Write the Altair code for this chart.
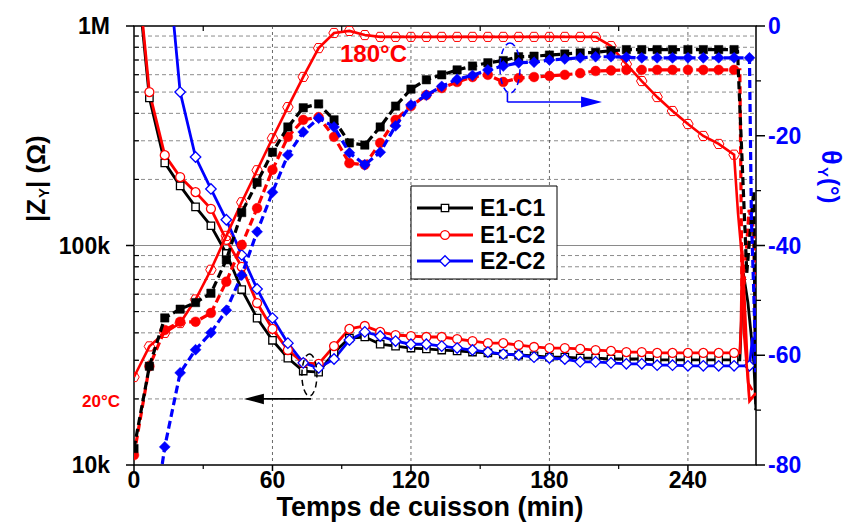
import altair as alt
import pandas as pd

# ---------------- data ----------------
t_grid = [0, 6.67, 13.33, 20, 26.67, 33.33, 40, 46.67, 53.33, 60,
          66.67, 73.33, 80, 86.67, 93.33, 100, 106.67, 113.33, 120, 126.67,
          133.33, 140, 146.67, 153.33, 160, 166.67, 173.33, 180, 186.67, 193.33,
          200, 206.67, 213.33, 220, 226.67, 233.33, 240, 246.67, 253.33, 260]

# |Z_Y| in ohm
z_e1c1 = [2.4e6, 470e3, 238e3, 187e3, 150e3, 123e3, 92e3, 63e3, 46.7e3, 37e3,
          30.7e3, 26.8e3, 26.5e3, 32.5e3, 37.9e3, 38.3e3, 35.5e3, 34.8e3, 34.1e3, 33.8e3,
          33.4e3, 33.1e3, 32.7e3, 32.4e3, 32.0e3, 31.7e3, 31.4e3, 31.0e3, 31.0e3, 30.7e3,
          30.7e3, 30.4e3, 30.4e3, 30.4e3, 30.1e3, 30.1e3, 30.1e3, 30.1e3, 30.1e3, 30.1e3]
z_e1c2 = [2.6e6, 500e3, 258e3, 205e3, 175e3, 147e3, 106e3, 80e3, 54.7e3, 41.7e3,
          33.4e3, 29.2e3, 28.9e3, 34.8e3, 41.7e3, 43.0e3, 40.4e3, 39.1e3, 38.7e3, 38.3e3,
          38.3e3, 37.5e3, 36.7e3, 35.9e3, 35.9e3, 35.2e3, 34.5e3, 34.1e3, 34.1e3, 33.8e3,
          33.4e3, 33.1e3, 32.7e3, 32.7e3, 32.4e3, 32.4e3, 32.4e3, 32.4e3, 32.4e3, 32.4e3]
z_e2c2 = [None, None, 2.8e6, 500e3, 253e3, 181e3, 131e3, 90.6e3, 63.4e3, 46.7e3,
          35.9e3, 29.2e3, 27.7e3, 30.4e3, 37.1e3, 40.4e3, 38.7e3, 36.7e3, 35.5e3, 35.5e3,
          34.8e3, 34.1e3, 33.4e3, 32.7e3, 32.0e3, 31.7e3, 31.0e3, 30.7e3, 30.4e3, 29.5e3,
          29.5e3, 29.2e3, 28.9e3, 28.9e3, 28.5e3, 28.5e3, 28.3e3, 28.3e3, 28.3e3, 28.3e3]
z_e1c1_tail_t = [262.5, 264.0, 266.0, 268.5, 269.5]
z_e1c1_tail = [30.1e3, 75e3, 55e3, 30e3, 17.8e3]
z_e1c2_tail_t = [262.5, 263.0, 263.5, 266.3, 266.7, 269.5]
z_e1c2_tail = [32.4e3, 43e3, 95e3, 22e3, 19.6e3, 21.3e3]
z_e2c2_tail_t = [266.67, 268.0, 269.5]
z_e2c2_tail = [28.3e3, 38e3, 25.5e3]

# phase theta_Y in degrees
p_e1c1 = [-77, -62, -53.2, -51.6, -50.4, -48.7, -42.6, -34, -28.5, -23,
          -18.4, -14.9, -14.2, -17.1, -21.3, -21.7, -18.4, -14.6, -11.5, -9.8,
          -8.9, -8.0, -7.3, -6.7, -6.3, -5.6, -5.5, -5.3, -5.1, -4.9,
          -4.8, -4.5, -4.3, -4.3, -4.3, -4.3, -4.3, -4.3, -4.3, -4.3]
p_e1c2 = [-78.2, -62, -55.4, -53.9, -53.9, -52.3, -46.6, -39.9, -33.2, -26.2,
          -20.2, -17.1, -16.6, -20.2, -25.0, -25.3, -21.3, -17.1, -14.6, -12.6,
          -11.3, -10.2, -9.3, -8.9, -10.2, -9.5, -9.3, -9.1, -8.9, -8.6,
          -8.2, -8.1, -8.0, -8.0, -8.0, -8.0, -8.0, -8.0, -8.0, -8.0]
p_e2c2 = [None, None, -76.7, -63.2, -59.0, -55.9, -51.8, -45.4, -37.5, -30.3,
          -23.5, -19.3, -16.8, -18.4, -23.1, -25.3, -23.0, -18.2, -14.4, -12.6,
          -11.0, -9.7, -9.0, -8.0, -7.3, -6.7, -6.6, -6.2, -6.0, -5.8,
          -5.6, -5.6, -5.7, -5.8, -5.8, -5.8, -5.8, -5.8, -5.8, -5.8]
p_e2c2_head_t = [11.5]
p_e2c2_head = [-82]
p_e1c1_tail_t = [261.5, 265.5, 268.5, 269.5]
p_e1c1_tail = [-4.6, -45, -30, -70]
p_e1c2_tail_t = [262.5, 263.5, 266.5, 268.5, 269.5]
p_e1c2_tail = [-8.0, -52, -33.5, -37, -62]
p_e2c2_tail_t = [266.67, 267.5, 268.5, 269.5]
p_e2c2_tail = [-5.8, -35, -48, -63]

# cure temperature in degC
temp_c = [29.6, 43.0, 48.9, 53.2, 63.5, 76.5, 91.3, 106.0, 120.0, 134.0,
          147.6, 160.8, 173.4, 180.0, 180.9, 179.1, 178.3, 178.3, 178.3, 178.3,
          178.3, 178.3, 178.3, 178.3, 178.3, 178.3, 178.3, 178.3, 178.3, 178.3,
          178.3, 174.3, 166.4, 159.0, 152.0, 145.9, 140.2, 135.0, 131.5, 126.8]
temp_tail_t = [261.7, 263.5, 264.3, 266.1, 267.9]
temp_tail = [101.3, 80.8, 48.9, 27.0, 23.9]

series_names = ["E1-C1", "E1-C2", "E2-C2"]
x_major = [0, 60, 120, 180, 240]
x_labels = ["0", "60", "120", "180", "240"]
x_grid = [60, 120, 180, 240]
x_minor = [30, 90, 150, 210]
z_major = [1e4, 1e5, 1e6]
z_labels = ["10k", "100k", "1M"]
z_minor = [2e4, 3e4, 4e4, 5e4, 6e4, 7e4, 8e4, 9e4, 2e5, 3e5, 4e5, 5e5, 6e5, 7e5, 8e5, 9e5]
p_major = [-80, -60, -40, -20, 0]
p_labels = ["-80", "-60", "-40", "-20", "0"]
p_minor = [-70, -50, -30, -10]

# annotation anchors (data units)
ell_left_t, ell_left_z = [76.0], [25.7e3]
arrow_left_t0, arrow_left_t1, arrow_left_z = [49.4], [76.7], [20e3]
arrow_left_head_t = [52.6]
ell_right_t, ell_right_p = [162.9], [-7.65]
arrow_right_t0, arrow_right_t1, arrow_right_p = [161.8], [197.0], [-13.85]
arrow_right_vert_p0 = [-12.1]
arrow_right_head_t = [197.6]

# ---------------- styling ----------------
FONT = "Liberation Sans"
W, H = 622, 439
BLACK, RED, BLUE = "#000000", "#ff0000", "#0000ff"
COLORS = [BLACK, RED, BLUE]
OPEN_SHAPES = ["square", "circle", "diamond"]
OPEN_SIZES = [55, 80, 110]
FILL_SIZES = [70, 95, 120]

XS = alt.Scale(domain=[0, 269.5], nice=False, zero=False)
ZS = alt.Scale(type="log", domain=[1e4, 1e6], nice=False)
PS = alt.Scale(domain=[-80, 0], nice=False, zero=False)
TS = alt.Scale(domain=[-8.853, 183.06], nice=False, zero=False)


def ellipse_path(a):
    k = 0.5523
    return (f"M0,-1 C{a*k:.3f},-1 {a:.3f},-{k} {a:.3f},0 "
            f"C{a:.3f},{k} {a*k:.3f},1 0,1 "
            f"C-{a*k:.3f},1 -{a:.3f},{k} -{a:.3f},0 "
            f"C-{a:.3f},-{k} -{a*k:.3f},-1 0,-1 Z")


HEX = "M-1,0 L-0.5,-0.87 L0.5,-0.87 L1,0 L0.5,0.87 L-0.5,0.87 Z"
TRI_LEFT = "M-1,0 L1,-0.53 L1,0.53 Z"
TRI_RIGHT = "M1,0 L-1,-0.53 L-1,0.53 Z"
VTICK = "M0,-1 L0,1"
HTICK = "M-1,0 L1,0"


def xq(field="t"):
    return alt.X(f"{field}:Q", scale=XS, axis=None)


def yz(field="v"):
    return alt.Y(f"{field}:Q", scale=ZS, axis=None)


def yp(field="v"):
    return alt.Y(f"{field}:Q", scale=PS, axis=None)


def frame(times, vals):
    df = pd.DataFrame({"t": times, "v": vals})
    return df.dropna()


def tick_pts(df, shape, length, width=1.5):
    return alt.Chart(df).mark_point(shape=shape, size=length * length, filled=False,
                                    stroke=BLACK, strokeWidth=width, opacity=1)


# ---------------- |Z| layer (left log axis) ----------------
zparts = [
    alt.Chart(pd.DataFrame({"v": z_minor})).mark_rule(color="#6e6e6e", strokeWidth=0.8, strokeDash=[4, 3])
    .encode(y=yz(), x=alt.value(0), x2=alt.value(W)),
    alt.Chart(pd.DataFrame({"v": [1e5]})).mark_rule(color="#8a8a8a", strokeWidth=1.2)
    .encode(y=yz(), x=alt.value(0), x2=alt.value(W)),
    alt.Chart(pd.DataFrame({"t": x_grid})).mark_rule(color="#444444", strokeWidth=0.8, strokeDash=[3, 3])
    .encode(x=xq(), y=alt.value(0), y2=alt.value(H)),
    # ticks
    tick_pts(pd.DataFrame({"v": z_minor}), HTICK, 5, 1.2).encode(y=yz(), x=alt.value(2.5)),
    tick_pts(pd.DataFrame({"v": z_major}), HTICK, 8).encode(y=yz(), x=alt.value(-4)),
    tick_pts(pd.DataFrame({"t": x_minor}), VTICK, 5, 1.2).encode(x=xq(), y=alt.value(2.5)),
    tick_pts(pd.DataFrame({"t": x_minor}), VTICK, 4, 1.2).encode(x=xq(), y=alt.value(H + 2)),
    tick_pts(pd.DataFrame({"t": x_major}), VTICK, 6).encode(x=xq(), y=alt.value(H + 3)),
    # tick labels
    alt.Chart(pd.DataFrame({"v": z_major, "lab": z_labels})).mark_text(
        font=FONT, fontSize=23, fontWeight="bold", color=BLACK, align="right", baseline="middle", dy=1)
    .encode(y=yz(), x=alt.value(-24), text="lab:N"),
    alt.Chart(pd.DataFrame({"t": x_major, "lab": x_labels})).mark_text(
        font=FONT, fontSize=23, fontWeight="bold", color=BLACK, align="center", baseline="alphabetic")
    .encode(x=xq(), y=alt.value(H + 23), text="lab:N"),
]

z_lists = [(z_e1c1, z_e1c1_tail_t, z_e1c1_tail, []),
           (z_e1c2, z_e1c2_tail_t, z_e1c2_tail, []),
           (z_e2c2, z_e2c2_tail_t, z_e2c2_tail, [0])]
for i, (vals, tt, tv, extra) in enumerate(z_lists):
    c = COLORS[i]
    line_df = frame(t_grid + tt, vals + tv)
    zparts.append(alt.Chart(line_df).mark_line(color=c, strokeWidth=2.8, clip=True).encode(x=xq(), y=yz()))
for i, (vals, tt, tv, extra) in enumerate(z_lists):
    c = COLORS[i]
    pts_df = frame(t_grid + [tt[j] for j in extra], vals + [tv[j] for j in extra])
    zparts.append(alt.Chart(pts_df).mark_point(shape=OPEN_SHAPES[i], size=OPEN_SIZES[i], filled=True,
                                                fill="white", stroke=c, strokeWidth=1.3, opacity=1, clip=True)
                  .encode(x=xq(), y=yz()))

# left annotation: dashed ellipse + arrow pointing to the |Z| axis
zparts.append(alt.Chart(frame(ell_left_t, ell_left_z))
              .mark_point(shape=ellipse_path(0.357), size=1764, filled=False, stroke=BLACK,
                          strokeWidth=1.5, strokeDash=[6, 4], opacity=1)
              .encode(x=xq(), y=yz()))
zparts.append(alt.Chart(pd.DataFrame({"t0": arrow_left_t0, "t1": arrow_left_t1, "v": arrow_left_z}))
              .mark_rule(color=BLACK, strokeWidth=1.6)
              .encode(x=alt.X("t0:Q", scale=XS, axis=None), x2="t1:Q", y=yz()))
zparts.append(alt.Chart(frame(arrow_left_head_t, arrow_left_z))
              .mark_point(shape=TRI_LEFT, size=225, filled=True, fill=BLACK, stroke=BLACK, opacity=1)
              .encode(x=xq(), y=yz()))
zlayer = alt.layer(*zparts)

# ---------------- temperature layer (no axis) ----------------
tparts = [
    alt.Chart(frame(t_grid + temp_tail_t, temp_c + temp_tail)).mark_line(color=RED, strokeWidth=2.6, clip=True)
    .encode(x=xq(), y=alt.Y("v:Q", scale=TS, axis=None)),
    alt.Chart(frame(t_grid, temp_c)).mark_point(shape=HEX, size=110, filled=False, stroke=RED,
                                                strokeWidth=1.0, opacity=1, clip=True)
    .encode(x=xq(), y=alt.Y("v:Q", scale=TS, axis=None)),
]
tlayer = alt.layer(*tparts)

# ---------------- phase layer (right axis) ----------------
pparts = [
    tick_pts(pd.DataFrame({"v": p_minor}), HTICK, 5, 1.3).encode(y=yp(), x=alt.value(W + 2.5)),
    tick_pts(pd.DataFrame({"v": p_major}), HTICK, 9).encode(y=yp(), x=alt.value(W + 4.5)),
    alt.Chart(pd.DataFrame({"v": p_major, "lab": p_labels})).mark_text(
        font=FONT, fontSize=23, fontWeight="bold", color=BLUE, align="left", baseline="middle", dy=1)
    .encode(y=yp(), x=alt.value(W + 12), text="lab:N"),
]
p_lists = [(p_e1c2, 1, [], [], p_e1c2_tail_t, p_e1c2_tail, []),
           (p_e1c1, 0, [], [], p_e1c1_tail_t, p_e1c1_tail, []),
           (p_e2c2, 2, p_e2c2_head_t, p_e2c2_head, p_e2c2_tail_t, p_e2c2_tail, [0])]
for vals, i, ht, hv, tt, tv, extra in p_lists:
    c = COLORS[i]
    line_df = frame(ht + t_grid + tt, hv + vals + tv)
    pts_df = frame(t_grid + [tt[j] for j in extra], vals + [tv[j] for j in extra])
    pparts.append(alt.Chart(line_df).mark_line(color=c, strokeWidth=3.2, strokeDash=[8, 4], clip=True)
                  .encode(x=xq(), y=yp()))
    pparts.append(alt.Chart(pts_df).mark_point(shape=OPEN_SHAPES[i], size=FILL_SIZES[i], filled=True,
                                                fill=c, stroke=c, strokeWidth=0.5, opacity=1, clip=True)
                  .encode(x=xq(), y=yp()))

pparts.append(alt.Chart(frame(ell_right_t, ell_right_p))
              .mark_point(shape=ellipse_path(0.4), size=2500, filled=False, stroke=BLUE,
                          strokeWidth=1.5, strokeDash=[6, 4], opacity=1)
              .encode(x=xq(), y=yp()))
pparts.append(alt.Chart(pd.DataFrame({"t": arrow_right_t0, "v0": arrow_right_vert_p0, "v1": arrow_right_p}))
              .mark_rule(color=BLUE, strokeWidth=1.6)
              .encode(x=xq(), y=yp("v0"), y2="v1:Q"))
pparts.append(alt.Chart(pd.DataFrame({"t0": arrow_right_t0, "t1": arrow_right_t1, "v": arrow_right_p}))
              .mark_rule(color=BLUE, strokeWidth=1.6)
              .encode(x=alt.X("t0:Q", scale=XS, axis=None), x2="t1:Q", y=yp()))
pparts.append(alt.Chart(frame(arrow_right_head_t, arrow_right_p))
              .mark_point(shape=TRI_RIGHT, size=256, filled=True, fill=BLUE, stroke=BLUE, opacity=1)
              .encode(x=xq(), y=yp()))
player = alt.layer(*pparts)

# ---------------- texts, titles, legend ----------------
one = pd.DataFrame({"k": [0]})


def txt(s, x, y, size, color=BLACK, angle=0, align="left", baseline="alphabetic", weight="bold"):
    return alt.Chart(one).mark_text(text=s, font=FONT, fontSize=size, fontWeight=weight, color=color,
                                    angle=angle, align=align, baseline=baseline).encode(
        x=alt.value(x), y=alt.value(y))


extras = [
    # x axis title
    txt("Temps de cuisson (min)", 296, 490, 27, align="center"),
    # left axis title |Z_Y| (Ω)
    txt("|Z", -89, 196, 26, angle=270),
    txt("Y", -85, 172, 15, angle=270),
    txt("| (Ω)", -89, 162, 26, angle=270),
    # right axis title θ_Y (°)
    txt("θ", 688, 124, 27, color=BLUE, angle=90),
    txt("Y", 684, 141, 15, color=BLUE, angle=90),
    txt(" (°)", 688, 152, 24, color=BLUE, angle=90),
    # temperature labels
    txt("180°C", 206, 36, 24, color=RED),
    txt("20°C", -14, 381, 17, color=RED, align="right"),
    # legend box
    alt.Chart(one).mark_rect(fill="white", stroke=BLACK, strokeWidth=1).encode(
        x=alt.value(277), x2=alt.value(423), y=alt.value(160), y2=alt.value(253)),
]
legend_rows = [182, 209, 235]
for i, name in enumerate(series_names):
    c = COLORS[i]
    yy = legend_rows[i]
    extras.append(alt.Chart(one).mark_rule(color=c, strokeWidth=3).encode(
        x=alt.value(283), x2=alt.value(339), y=alt.value(yy)))
    extras.append(alt.Chart(one).mark_point(shape=OPEN_SHAPES[i], size=OPEN_SIZES[i], filled=True,
                                            fill="white", stroke=c, strokeWidth=1.3, opacity=1).encode(
        x=alt.value(311), y=alt.value(yy)))
    extras.append(txt(name, 346, yy + 1, 23, baseline="middle"))

chart = (
    alt.layer(zlayer, tlayer, player, *extras)
    .resolve_scale(y="independent")
    .properties(width=W, height=H,
                padding={"left": 126, "top": 18, "right": 96, "bottom": 59},
                autosize=alt.AutoSizeParams(type="none"))
    .configure_view(stroke=BLACK, strokeWidth=1.5)
)

chart.save("out.html", embed_options={"renderer": "svg", "actions": False})
